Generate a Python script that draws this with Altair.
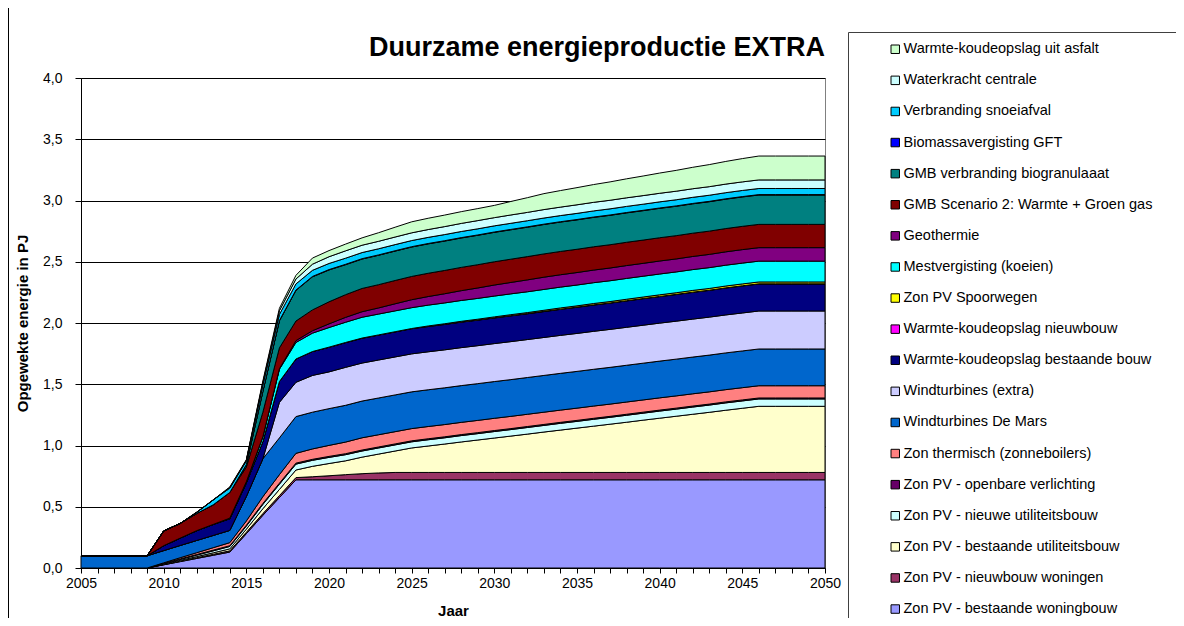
import altair as alt
import pandas as pd

years = list(range(2005, 2051))

# series, bottom of the stack first
zon_pv_bestaande_woningbouw = [0, 0, 0, 0, 0, .026, .052, .078, .104, .13, .28, .43, .575, .72] + [.72] * 32
zon_pv_nieuwbouw_woningen = [0, 0, 0, 0, 0, .002, .004, .006, .008, .01, .012, .014, .016, .018,
                             .025, .033, .042, .05, .056] + [.06] * 27
zon_pv_bestaande_util = [0, 0, 0, 0, 0, .003, .006, .009, .012, .016, .025, .04, .05, .062,
                         .085, .10, .113, .135, .154, .175, .20,
                         .216, .232, .249, .265, .281, .297, .313, .33, .346, .362, .378, .394, .41,
                         .427, .443, .459, .475, .491, .508, .524, .54, .54, .54, .54, .54]
zon_pv_nieuwe_util = [0, 0, 0, 0, 0, .004, .008, .012, .016, .02, .025, .035, .043, .048,
                      .049, .05, .05, .05, .05, .05, .05,
                      .051, .051, .052, .052, .053, .053, .054, .054, .055, .055, .056, .056, .057, .057,
                      .058, .058, .059, .059, .06, .06, .06, .06, .06, .06, .06]
zon_pv_openbare_verlichting = [0, 0, 0, 0, 0, .002, .004, .005, .006, .006, .007, .008, .008, .008] + [.008] * 32
zon_thermisch = [0, 0, 0, 0, 0, .005, .01, .015, .02, .025, .035, .055, .07, .08, .085, .09, .095] + [.10] * 29
windturbines_de_mars = [.1] * 10 + [.2, .31] + [.30] * 34
windturbines_extra = [0] * 12 + [.29, .28, .30, .30] + [.31] * 30
wko_bestaande_bouw = [0, 0, 0, 0, 0, .04, .06, .08, .09, .095, .11, .14, .17, .19, .195, .20,
                      .201, .202, .203, .204, .205, .206, .207, .208, .208, .209, .21, .21, .211, .212, .213,
                      .214, .214, .215, .216, .216, .217, .218, .218, .219, .22, .22, .22, .22, .22, .22]
wko_nieuwbouw = [0] * 15 + [.002] * 31
zon_pv_spoorwegen = [0] * 21 + [.003, .004, .005, .006, .007, .008, .008, .009, .01, .01, .011, .011, .012,
                                .012, .013, .013, .014, .014, .015, .015, .015, .015, .015, .015, .015]
mestvergisting = [0] * 9 + [.005, .01, .04, .10, .135, .15, .16, .165] + [.17] * 29
geothermie = [0] * 12 + [.005, .015, .02, .03, .04, .045, .05, .058, .065, .07, .075, .08, .085, .09, .093,
                         .097, .10, .101, .102, .103, .104, .105, .105, .106, .106, .107, .108, .109, .11,
                         .11, .11, .11, .11, .11]
gmb_scenario2 = [0, 0, 0, 0, 0, .12, .12, .14, .16, .21, .12, .20, .17, .16, .17, .18, .185] + [.19] * 29
gmb_biogranulaat = [0] * 10 + [.02, .17, .22, .25, .27, .26, .245] + [.24] * 29
biomassa_gft = [0] * 12 + [.003] * 34
snoeiafval = [0] * 7 + [.01, .04, .035, .03] + [.05] * 35
waterkracht = [0] * 9 + [.005, .005, .02, .03, .04, .05, .055, .06, .06, .061, .062, .063, .064, .065, .066,
                         .067, .067, .068, .068, .069, .069, .07, .07, .07, .07, .07, .07, .07, .07, .07,
                         .07, .07, .07, .07, .07, .07, .07]
asfalt = [0] * 9 + [.005, .005, .015, .02, .03, .05, .05, .055, .06, .07, .08, .09, .092, .094, .096, .098,
                    .10, .11, .12, .13, .135, .14, .145, .15, .155, .16, .165, .17, .175, .18, .185, .19,
                    .195, .195, .195, .195, .195]

series_names = [
    "Zon PV - bestaande woningbouw",
    "Zon PV - nieuwbouw woningen",
    "Zon PV - bestaande utiliteitsbouw",
    "Zon PV - nieuwe utiliteitsbouw",
    "Zon PV - openbare verlichting",
    "Zon thermisch (zonneboilers)",
    "Windturbines De Mars",
    "Windturbines (extra)",
    "Warmte-koudeopslag bestaande bouw",
    "Warmte-koudeopslag nieuwbouw",
    "Zon PV Spoorwegen",
    "Mestvergisting (koeien)",
    "Geothermie",
    "GMB Scenario 2: Warmte + Groen gas",
    "GMB verbranding biogranulaaat",
    "Biomassavergisting GFT",
    "Verbranding snoeiafval",
    "Waterkracht centrale",
    "Warmte-koudeopslag uit asfalt",
]
series_values = [
    zon_pv_bestaande_woningbouw, zon_pv_nieuwbouw_woningen, zon_pv_bestaande_util,
    zon_pv_nieuwe_util, zon_pv_openbare_verlichting, zon_thermisch, windturbines_de_mars,
    windturbines_extra, wko_bestaande_bouw, wko_nieuwbouw, zon_pv_spoorwegen, mestvergisting,
    geothermie, gmb_scenario2, gmb_biogranulaat, biomassa_gft, snoeiafval, waterkracht, asfalt,
]
series_colors = [
    "#9999FF", "#993366", "#FFFFCC", "#CCFFFF", "#660066", "#FF8080", "#0066CC", "#CCCCFF",
    "#000080", "#FF00FF", "#FFFF00", "#00FFFF", "#800080", "#800000", "#008080", "#0000FF",
    "#00CCFF", "#CCFFFF", "#CCFFCC",
]

rows = []
for i, (name, vals) in enumerate(zip(series_names, series_values)):
    assert len(vals) == len(years), name
    for yr, v in zip(years, vals):
        rows.append({"Jaar": yr, "Serie": name, "Waarde": v, "orde": i})
df = pd.DataFrame(rows)

FONT = "Liberation Sans"
W, H = 744, 490

area = alt.Chart(df).mark_area(stroke="black", strokeWidth=1, interpolate="linear").encode(
    x=alt.X("Jaar:Q",
            scale=alt.Scale(domain=[2005, 2050], nice=False, zero=False),
            axis=alt.Axis(values=years, title="Jaar", grid=False, labelFlush=False,
                          labelOverlap=False,
                          labelExpr="datum.value % 5 == 0 ? toString(datum.value) : ''",
                          labelFont=FONT, labelFontSize=14, labelColor="black",
                          labelPadding=3, tickSize=5, tickColor="black", domainColor="black",
                          titleFont=FONT, titleFontSize=15, titleFontWeight="bold",
                          titleColor="black", titlePadding=13)),
    y=alt.Y("Waarde:Q", stack="zero",
            scale=alt.Scale(domain=[0, 4], nice=False),
            axis=alt.Axis(values=[0, 0.5, 1, 1.5, 2, 2.5, 3, 3.5, 4],
                          title="Opgewekte energie in PJ",
                          labelExpr="replace(format(datum.value, '.1f'), '.', ',')",
                          labelFont=FONT, labelFontSize=14, labelColor="black",
                          labelPadding=13, tickSize=6, tickColor="black", domainColor="black",
                          gridColor="black", gridWidth=1,
                          titleFont=FONT, titleFontSize=15, titleFontWeight="bold",
                          titleColor="black", titlePadding=12)),
    color=alt.Color("Serie:N",
                    scale=alt.Scale(domain=series_names[::-1], range=series_colors[::-1]),
                    legend=alt.Legend(title=None, orient="none", legendX=767, legendY=-46,
                                      symbolType="square", symbolSize=72,
                                      symbolStrokeColor="black", symbolStrokeWidth=1,
                                      symbolOpacity=1, symbolOffset=30, labelOffset=1,
                                      labelFont=FONT, labelFontSize=14.5, labelColor="black",
                                      labelLimit=400, rowPadding=16.1, padding=10)),
    order=alt.Order("orde:Q", sort="ascending"),
)

deco = alt.Chart(pd.DataFrame({"k": [0]}))
frame_left = deco.mark_rule(color="black", strokeWidth=1).encode(
    x=alt.value(-72.5), y=alt.value(-70.5), y2=alt.value(H + 50))
frame_top = deco.mark_rule(color="black", strokeWidth=1).encode(
    x=alt.value(-72.5), x2=alt.value(W + 351), y=alt.value(-70.5))
legend_left = deco.mark_rule(color="#404040", strokeWidth=1).encode(
    x=alt.value(767.5), y=alt.value(-45.5), y2=alt.value(H + 50))
legend_top = deco.mark_rule(color="#404040", strokeWidth=1).encode(
    x=alt.value(767.5), x2=alt.value(W + 351), y=alt.value(-45.5))

chart = alt.layer(frame_left, frame_top, legend_left, legend_top, area).properties(
    width=W, height=H,
    title=alt.TitleParams("Duurzame energieproductie EXTRA", anchor="end", frame="group",
                          font=FONT, fontSize=27, fontWeight="bold", color="black",
                          baseline="alphabetic", offset=0, dy=76),
    autosize=alt.AutoSizeParams(type="none"),
    padding={"left": 73, "top": 70, "right": 351, "bottom": 50},
).configure_view(stroke="#808080", strokeWidth=1)

chart.save("out.html", embed_options={"renderer": "svg", "actions": False})
